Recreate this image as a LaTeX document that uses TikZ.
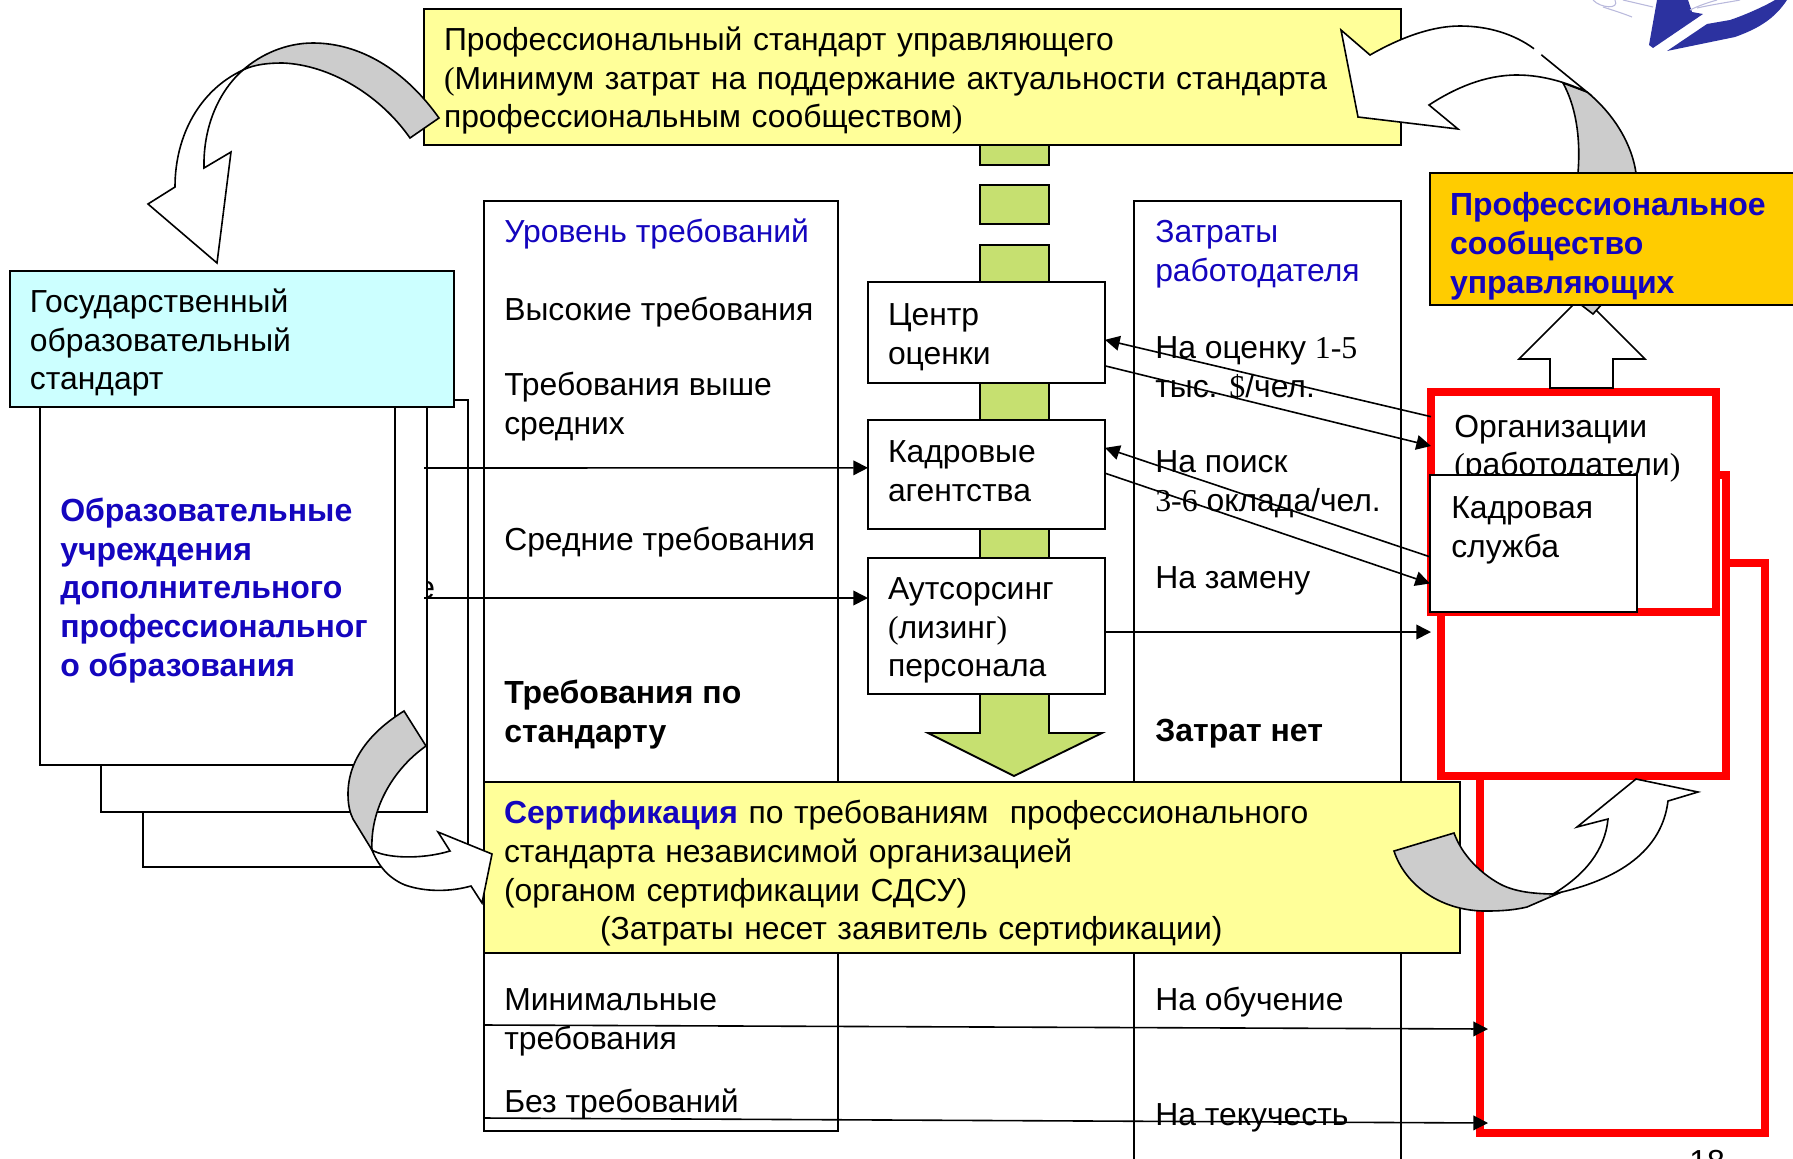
\documentclass[tikz,border=0pt]{standalone}
\usepackage{fontspec}
\setmainfont{Liberation Sans}
\newfontfamily\tnr{Liberation Serif}
\usetikzlibrary{arrows.meta}
\definecolor{paleyellow}{RGB}{255,255,153}
\definecolor{palecyan}{RGB}{204,255,255}
\definecolor{amber}{RGB}{255,204,0}
\definecolor{inkblue}{RGB}{20,5,190}
\definecolor{leaf}{RGB}{198,224,112}
\definecolor{shade}{RGB}{204,204,204}
\definecolor{logoblue}{RGB}{44,50,160}
\definecolor{logopale}{RGB}{185,185,220}
\tikzset{
  lbl/.style={anchor=west,inner sep=0pt,align=left,font=\fontsize{23.9}{29}\selectfont,
    execute at begin node=\rule{0pt}{27pt},execute at end node=\strut},
  panel/.style={anchor=north west,draw=black,line width=1.4pt,outer sep=0pt,inner ysep=0pt,
    inner xsep=15pt,align=left,font=\fontsize{23.9}{29}\selectfont,
    execute at begin node=\rule{0pt}{27pt},execute at end node=\strut},
  heavy/.style={font=\fontsize{24}{29}\selectfont\bfseries},
  sheet/.style={draw=black,line width=1.4pt,fill=white},
  redbox/.style={anchor=north west,draw=red,line width=6pt,fill=white,outer sep=0pt,inner sep=0pt},
  link/.style={line width=1.2pt,-{Triangle[length=11pt,width=11pt]}},
  curved/.style={draw=black,line width=1.2pt,line join=miter}
}
\begin{document}
\begin{tikzpicture}[x=0.75pt,y=0.75pt,yscale=-1,xscale=1]
\clip (0,0) rectangle (1793,1158);

% logo in the corner
\fill [logoblue] (1657,0) -- (1649,45) -- (1653,48) -- (1703,14) -- (1692,12) -- (1688,0) -- cycle;
\fill [logoblue] (1667,51) -- (1707,24) -- (1730,20) .. controls (1745,15) and (1765,6) .. (1775,0) -- (1787,0) .. controls (1775,18) and (1760,28) .. (1735,37) -- cycle;
\draw [logopale,line width=0.8pt] (1593,0) .. controls (1600,8) and (1620,10) .. (1615,0);
\draw [logopale,line width=0.8pt] (1603,7) .. controls (1612,10) and (1622,13) .. (1632,17);
\draw [logopale,line width=0.8pt] (1623,0) -- (1653,7);
\draw [logopale,line width=0.8pt] (1690,10) .. controls (1700,5) and (1710,2) .. (1717,0);
\draw [logopale,line width=0.8pt] (1697,8) .. controls (1715,4) and (1730,2) .. (1740,0);

% columns
\node [panel,fill=white,minimum width=265.5pt,minimum height=697.5pt] (levels) at (484,201) {};
\node [panel,fill=white,minimum width=200.25pt,minimum height=750pt] (costs) at (1134,201) {};

% green arrow
\fill [leaf,draw=black,line width=1.4pt] (980,140) rectangle (1049,165);
\fill [leaf,draw=black,line width=1.4pt] (980,185) rectangle (1049,224);
\path [fill=leaf,draw=black,line width=1.4pt] (980,245) -- (1049,245) -- (1049,733) -- (1102,733) -- (1014,776) -- (928,733) -- (980,733) -- cycle;

% stacked sheets
\draw [sheet] (143,400) rectangle (468,867);
\node [lbl] (hidden) at (417,586) {е};
\draw [sheet] (101,390) rectangle (427,812);
\draw [sheet] (40,390) rectangle (395,765);
\node [lbl,heavy,text=inkblue] (schools) at (60,593) {Образовательные\\учреждения\\дополнительного\\профессиональног\\о образования};

% red frames
\node [redbox,minimum width=213.75pt,minimum height=427.5pt] (frameC) at (1480,563) {};
\node [redbox,minimum width=213.75pt,minimum height=225.75pt] (frameB) at (1441,475) {};
\node [redbox,minimum width=213.75pt,minimum height=165pt] (frameA) at (1431,392) {};
\node [lbl] (org) at (1454,451) {Организации\\{\tnr(}работодатели{\tnr)}};
\node [panel,fill=white,minimum width=155.25pt,minimum height=102.75pt] (hr) at (1430,475) {};
\node [lbl] (hrtext) at (1451,533) {Кадровая\\служба};

% up arrow, then the grey tail that passes behind the amber box
\path [fill=white,draw=black,line width=1.2pt] (1582,296) -- (1645,359) -- (1613,359) -- (1613,388) -- (1550,388) -- (1550,359) -- (1519,359) -- cycle;
\path [curved,fill=shade] (1563,83) -- (1587,92) .. controls (1615,115) and (1632,145) .. (1636,173) -- (1602,304) -- (1593,314) -- (1580,304) -- (1578,173) .. controls (1581,135) and (1575,105) .. (1563,83) -- cycle;
\node [panel,heavy,fill=amber,text width=277.5pt,minimum height=98.25pt,text=inkblue,execute at begin node=\rule{0pt}{32pt}] (guild) at (1430,173) {Профессиональное\\сообщество\\управляющих};

% yellow and cyan boxes
\node [panel,fill=paleyellow,text width=702.75pt,minimum height=102pt] (standard) at (424,9) {Профессиональный стандарт управляющего\\{\tnr(}Минимум затрат на поддержание актуальности стандарта\\профессиональным сообществом{\tnr)}};
\node [panel,fill=palecyan,text width=303pt,minimum height=102pt] (state) at (10,271) {Государственный\\образовательный\\стандарт};
\node [panel,fill=paleyellow,text width=702pt,minimum height=128.25pt,execute at begin node=\rule{0pt}{30.4pt}] (cert) at (484,782) {\textcolor{inkblue}{\textbf{Сертификация}} по требованиям\ \ профессионального\\стандарта независимой организацией\\(органом сертификации СДСУ)\\\hspace*{72pt}(Затраты несет заявитель сертификации)};

% service boxes
\node [panel,fill=white,text width=147.75pt,minimum height=75.75pt] (centre) at (868,282) {Центр\\оценки};
\node [panel,fill=white,text width=147.75pt,minimum height=81.75pt,execute at end node={\rule[-15.5pt]{0pt}{1pt}}] (agency) at (868,420) {Кадровые\\агентства};
\node [panel,fill=white,text width=147.75pt,minimum height=102pt] (lease) at (868,558) {Аутсорсинг\\{\tnr(}лизинг{\tnr)}\\персонала};

% column texts
\node [lbl,text=inkblue] (t1) at (504,230) {Уровень требований};
\node [lbl] (t2) at (504,308) {Высокие требования};
\node [lbl] (t3) at (504,409) {Требования выше\\средних};
\node [lbl] (t4) at (504,538) {Средние требования};
\node [lbl,heavy] (t5) at (504,717) {Требования по\\стандарту};
\node [lbl] (t6) at (504,1025) {Минимальные\\требования};
\node [lbl] (t7) at (504,1100) {Без требований};
\node [lbl,text=inkblue] (c1) at (1155,257) {Затраты\\работодателя};
\node [lbl] (c2) at (1155,373) {На оценку {\tnr 1-5}\\тыс. {\tnr\$}/чел.};
\node [lbl] (c3) at (1155,487) {На поиск\\{\tnr 3-6} оклада/чел.};
\node [lbl] (c4) at (1155,576) {На замену};
\node [lbl,heavy] (c5) at (1155,729) {Затрат нет};
\node [lbl] (c6) at (1155,998) {На обучение};
\node [lbl] (c7) at (1155,1113) {На текучесть};
\node [lbl] (pagenum) at (1689,1160) {18};

% connectors
\coordinate (sheetA) at (424,468);
\coordinate (sheetB) at (424,598);
\coordinate (lowA) at (484,1025);
\coordinate (lowB) at (484,1118);
\coordinate (frameLowA) at (1488,1029);
\coordinate (frameLowB) at (1488,1123);
\draw [link] (sheetA) -- ([yshift=-5pt]agency.west);
\draw [link] (sheetB) -- ([yshift=-21pt]lease.west);
\draw [link] ([yshift=-64pt]frameA.west) -- ([yshift=5.5pt]centre.east);
\draw [link] ([yshift=25pt]centre.east) -- ([yshift=-42pt]frameA.west);
\draw [link] ([yshift=10pt]hr.west) -- ([yshift=-20pt]agency.east);
\draw [link] ([yshift=-1pt]agency.east) -- ([yshift=30pt]hr.west);
\draw [link] ([yshift=4.5pt]lease.east) -- ([yshift=97.5pt]frameA.west);
\draw [link] (lowA) -- (frameLowA);
\draw [link] (lowB) -- (frameLowB);

% curved arrows
\path [curved,fill=shade] (439,118) .. controls (405,70) and (360,43) .. (313,43) .. controls (285,43) and (260,55) .. (243,70) .. controls (255,64) and (270,63) .. (283,63) .. controls (330,65) and (380,95) .. (410,138) -- cycle;
\path [curved,fill=white] (243,70) .. controls (200,90) and (175,135) .. (175,187) -- (148,204) -- (217,263) -- (231,152) -- (204,168) .. controls (203,125) and (220,90) .. (243,70) -- cycle;
\path [curved,fill=white] (1341,30) -- (1370,55) .. controls (1405,35) and (1435,26) .. (1460,26) .. controls (1490,26) and (1515,35) .. (1533,48) -- (1587,92) .. controls (1570,84) and (1545,75) .. (1517,75) .. controls (1485,75) and (1455,88) .. (1429,105) -- (1458,129) -- (1358,117) -- cycle;
\draw [white,line width=2.5pt] (1534,49) -- (1541,55);
\path [curved,fill=shade] (404,711) .. controls (370,732) and (348,760) .. (348,794) .. controls (348,805) and (350,813) .. (353,819) -- (372,850) .. controls (370,810) and (392,770) .. (426,746) -- cycle;
\path [curved,fill=white] (372,850) .. controls (385,858) and (420,860) .. (450,851) -- (438,832) -- (492,854) -- (482,903) -- (471,886) .. controls (450,892) and (425,892) .. (405,885) .. controls (388,878) and (378,865) .. (372,850) -- cycle;
\path [curved,fill=shade] (1394,851) -- (1454,833) .. controls (1462,855) and (1480,873) .. (1500,884) .. controls (1515,892) and (1535,894) .. (1557,894) -- (1527,907) .. controls (1510,911) and (1495,911) .. (1483,911) .. controls (1440,910) and (1405,885) .. (1394,851) -- cycle;
\path [curved,fill=white] (1553,894) .. controls (1585,875) and (1605,850) .. (1608,819) -- (1577,827) -- (1636,779) -- (1698,792) -- (1668,801) .. controls (1662,850) and (1620,880) .. (1553,894) -- cycle;
\end{tikzpicture}
\end{document}
